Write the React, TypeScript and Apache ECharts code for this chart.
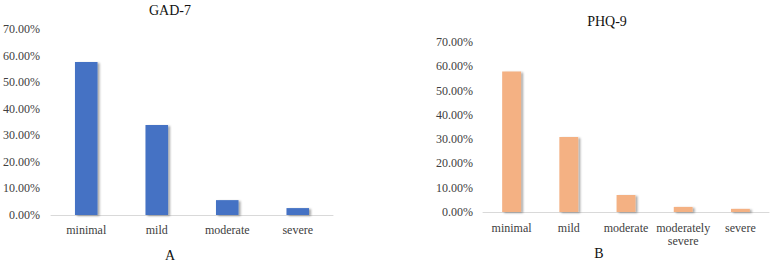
import React, { useEffect, useRef } from "react";
import * as echarts from "echarts";

const gadCategories = ["minimal", "mild", "moderate", "severe"];
const gadValues = [57.6, 33.9, 5.6, 2.6];
const phqCategories = ["minimal", "mild", "moderate", "moderately severe", "severe"];
const phqValues = [57.9, 30.9, 7.0, 2.1, 1.3];
const yTicks = { min: 0, max: 70, interval: 10 };

const FONT = "'Liberation Serif', 'Times New Roman', serif";

export default function App() {
  const ref = useRef<HTMLDivElement>(null);
  useEffect(() => {
    if (!ref.current) return;
    const chart = echarts.init(ref.current, null, { renderer: "svg" });
    const yAxisCommon = {
      type: "value",
      min: yTicks.min,
      max: yTicks.max,
      interval: yTicks.interval,
      splitLine: { show: false },
      axisLine: { show: false },
      axisTick: { show: false },
      axisLabel: {
        formatter: (v: number) => v.toFixed(2) + "%",
        fontFamily: FONT,
        fontSize: 12,
        color: "#404040",
      },
    };
    const xAxisCommon = {
      type: "category",
      axisTick: { show: false },
      axisLine: { lineStyle: { color: "#d9d9d9", width: 1 } },
      axisLabel: {
        fontFamily: FONT,
        fontSize: 12,
        color: "#404040",
        interval: 0,
        lineHeight: 13,
        formatter: (v: string) => v.replace(" ", "\n"),
      },
    };
    const shadow = {
      shadowColor: "rgba(0,0,0,0.35)",
      shadowBlur: 2,
      shadowOffsetX: 2,
      shadowOffsetY: 1,
    };
    chart.setOption({
      animation: false,
      grid: [
        { left: 48, right: 438, top: 29, bottom: 48 },
        { left: 483, right: 2, top: 42, bottom: 51 },
      ],
      xAxis: [
        { ...xAxisCommon, gridIndex: 0, data: gadCategories, axisLabel: { ...xAxisCommon.axisLabel, margin: 8 } },
        { ...xAxisCommon, gridIndex: 1, data: phqCategories, axisLabel: { ...xAxisCommon.axisLabel, margin: 9 } },
      ],
      yAxis: [
        { ...yAxisCommon, gridIndex: 0, axisLabel: { ...yAxisCommon.axisLabel, margin: 11 } },
        { ...yAxisCommon, gridIndex: 1, axisLabel: { ...yAxisCommon.axisLabel, margin: 10 } },
      ],
      series: [
        {
          type: "bar",
          xAxisIndex: 0,
          yAxisIndex: 0,
          data: gadValues,
          barWidth: "32%",
          itemStyle: { color: "#4472C4", ...shadow },
        },
        {
          type: "bar",
          xAxisIndex: 1,
          yAxisIndex: 1,
          data: phqValues,
          barWidth: "33%",
          itemStyle: { color: "#F4B183", ...shadow },
        },
      ],
      graphic: [
        {
          type: "text",
          x: 170,
          y: 10,
          style: { text: "GAD-7", fontFamily: FONT, fontSize: 14, fill: "#111", textAlign: "center", textVerticalAlign: "middle" },
        },
        {
          type: "text",
          x: 607,
          y: 21,
          style: { text: "PHQ-9", fontFamily: FONT, fontSize: 14, fill: "#111", textAlign: "center", textVerticalAlign: "middle" },
        },
        {
          type: "text",
          x: 170,
          y: 255,
          style: { text: "A", fontFamily: FONT, fontSize: 14, fill: "#111", textAlign: "center", textVerticalAlign: "middle" },
        },
        {
          type: "text",
          x: 599,
          y: 253,
          style: { text: "B", fontFamily: FONT, fontSize: 14, fill: "#111", textAlign: "center", textVerticalAlign: "middle" },
        },
      ],
    });
    return () => chart.dispose();
  }, []);
  return (
    <div
      ref={ref}
      style={{ position: "absolute", left: 0, top: 0, width: 771, height: 263, background: "#fff" }}
    />
  );
}
